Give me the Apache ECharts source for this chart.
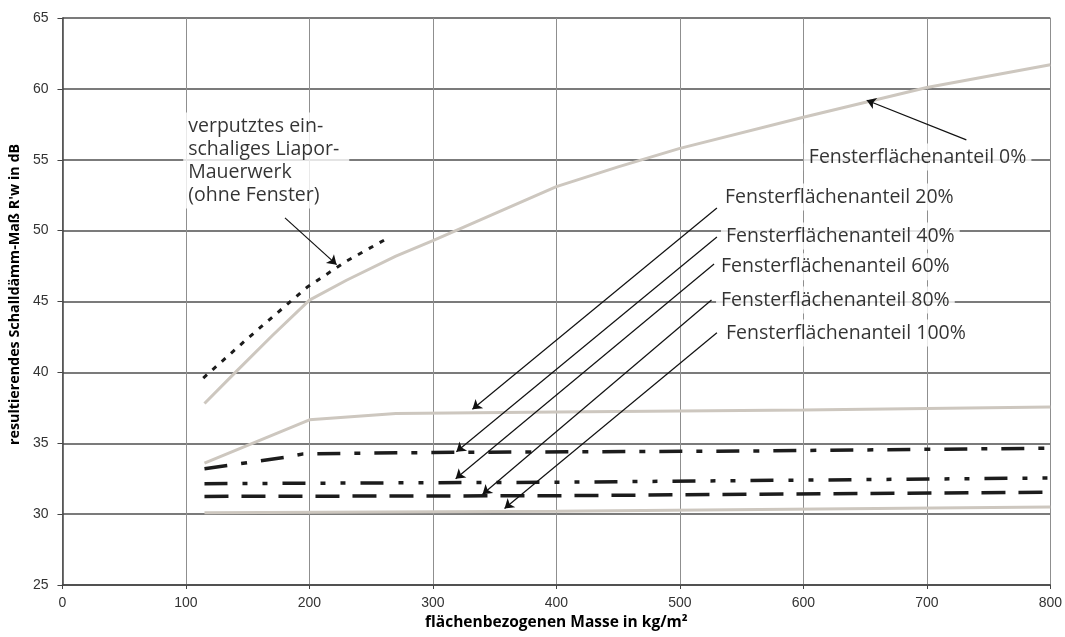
<!DOCTYPE html>
<html>
<head>
<meta charset="utf-8">
<script src="https://cdn.jsdelivr.net/npm/echarts@6/dist/echarts.min.js"></script>
<style>
    html, body { margin: 0; padding: 0; background: #fff; }
    #main { width: 1065px; height: 637px; }
</style>
</head>
<body>
<div id="main"></div>
<script>
'use strict';

// flächenbezogene Masse [kg/m²], R'w [dB]
var fenster0 = [[115, 37.8], [140, 40.0], [170, 42.6], [200, 45.1], [230, 46.5], [270, 48.2], [300, 49.3],
    [350, 51.2], [400, 53.1], [450, 54.5], [500, 55.8], [600, 58.0], [700, 60.1], [800, 61.7]];
var fenster20 = [[115, 33.6], [200, 36.65], [270, 37.1], [400, 37.2], [600, 37.35], [800, 37.55]];
var fenster40 = [[115, 33.2], [135, 33.45], [180, 34.0], [195, 34.25], [300, 34.35], [550, 34.45], [800, 34.65]];
var fenster60 = [[115, 32.15], [400, 32.25], [800, 32.55]];
var fenster80 = [[115, 31.25], [400, 31.3], [800, 31.55]];
var fenster100 = [[115, 30.1], [400, 30.2], [800, 30.5]];
var liapor = [[114, 39.6], [150, 42.4], [198, 46.0], [230, 47.85], [264, 49.5]];

// Beschriftungen (linke Kante, Mitte) und Pfeile, in Achsenwerten
var labelTexts = [
    'Fensterflächenanteil 0%',
    'Fensterflächenanteil 20%',
    'Fensterflächenanteil 40%',
    'Fensterflächenanteil 60%',
    'Fensterflächenanteil 80%',
    'Fensterflächenanteil 100%',
    'verputztes ein-\nschaliges Liapor-\nMauerwerk\n(ohne Fenster)'
];
var labelAnchors = [[600.4, 55.19], [532.5, 52.37], [533.3, 49.62], [529.3, 47.45], [529.3, 45.1], [533.3, 42.78], [97.8, 54.95]];
var arrowFrom = [[732, 56.4], [530, 51.6], [530, 49.55], [527.7, 47.65], [525.6, 45.1], [530, 42.8], [180.2, 50.9]];
var arrowTo = [[651.3, 59.2], [332, 37.4], [319, 34.4], [318.4, 32.5], [340.2, 31.4], [358, 30.4], [222, 47.6]];

var grayLine = '#cdc7bf';
var blackLine = '#1c1c1c';

var myChart = echarts.init(document.getElementById('main'));

var lineSeries = function (name, data, color, width, dash) {
    return {
        name: name,
        type: 'line',
        data: data,
        showSymbol: false,
        silent: true,
        lineStyle: {
            color: color,
            width: width,
            type: dash || 'solid',
            cap: 'butt'
        },
        z: 3
    };
};

var option = {
    animation: false,
    backgroundColor: '#fff',
    grid: {
        left: 62,
        right: 13,
        top: 18,
        bottom: 52
    },
    xAxis: {
        type: 'value',
        min: 0,
        max: 800,
        interval: 100,
        name: 'flächenbezogenen Masse in kg/m²',
        nameLocation: 'middle',
        nameGap: 29,
        nameTextStyle: {
            fontFamily: 'Open Sans',
            fontWeight: 'bold',
            fontSize: 15.5,
            color: '#000'
        },
        axisLine: { show: true, lineStyle: { color: '#444', width: 1.5 } },
        axisTick: { show: true, length: 4, lineStyle: { color: '#444' } },
        axisLabel: {
            margin: 11,
            fontFamily: 'Liberation Sans',
            fontSize: 14,
            color: '#333'
        },
        splitLine: { show: true, lineStyle: { color: '#8f8f8f', width: 1 } }
    },
    yAxis: {
        type: 'value',
        min: 25,
        max: 65,
        interval: 5,
        name: 'resultierendes Schalldämm-Maß R\'w in dB',
        nameLocation: 'middle',
        nameGap: 37,
        nameTextStyle: {
            fontFamily: 'Open Sans',
            fontWeight: 'bold',
            fontSize: 14.3,
            color: '#000',
            padding: [0, 0, 0, 14]
        },
        axisLine: { show: true, lineStyle: { color: '#444', width: 1.5 } },
        axisTick: { show: true, length: 5, lineStyle: { color: '#444' } },
        axisLabel: {
            margin: 14,
            fontFamily: 'Liberation Sans',
            fontSize: 14,
            color: '#333'
        },
        splitLine: { show: true, lineStyle: { color: '#4f4f4f', width: 1.5 } }
    },
    series: [
        lineSeries('Fensterflächenanteil 0%', fenster0, grayLine, 3),
        lineSeries('Fensterflächenanteil 20%', fenster20, grayLine, 3),
        lineSeries('Fensterflächenanteil 40%', fenster40, blackLine, 3.5, [23, 14, 6, 14]),
        lineSeries('Fensterflächenanteil 60%', fenster60, blackLine, 3.5, [23, 15, 5, 15, 5, 15]),
        lineSeries('Fensterflächenanteil 80%', fenster80, blackLine, 3.5, [24, 13]),
        lineSeries('Fensterflächenanteil 100%', fenster100, grayLine, 3),
        lineSeries('Liapor-Mauerwerk', liapor, blackLine, 3, [5, 7.4]),
        {
            name: 'Pfeile',
            type: 'line',
            data: [],
            silent: true,
            z: 4,
            markLine: {
                silent: true,
                symbol: ['none', 'arrow'],
                symbolSize: 9,
                label: { show: false },
                lineStyle: { color: '#111', width: 1.2, type: 'solid' },
                data: arrowFrom.map(function (p, i) {
                    return [{ coord: p }, { coord: arrowTo[i] }];
                })
            }
        },
        {
            name: 'Beschriftung',
            type: 'scatter',
            symbolSize: 0,
            silent: true,
            z: 5,
            data: labelAnchors.map(function (p, i) {
                return {
                    value: p,
                    label: {
                        formatter: labelTexts[i],
                        padding: i === 6 ? [2, 10, 2, 5] : [2, 5]
                    }
                };
            }),
            label: {
                show: true,
                position: 'right',
                distance: 0,
                fontFamily: 'Open Sans',
                fontSize: 19.5,
                lineHeight: 23,
                color: '#000',
                backgroundColor: '#fff'
            }
        }
    ]
};

myChart.setOption(option);
</script>
</body>
</html>
